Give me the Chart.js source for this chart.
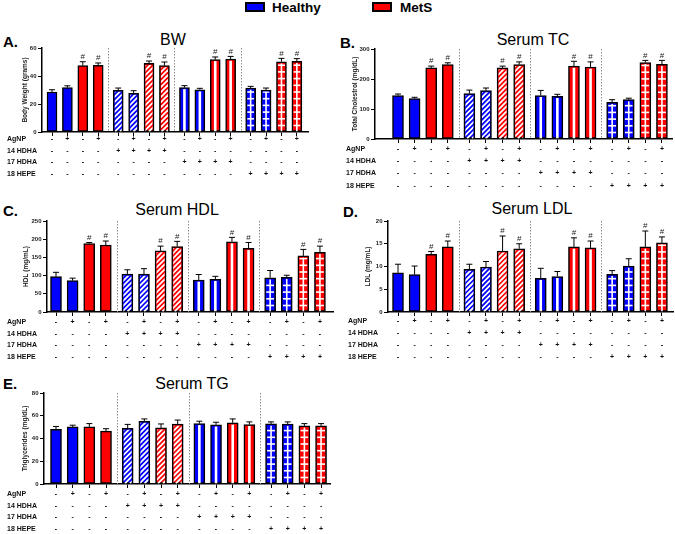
<!DOCTYPE html>
<html>
<head>
<meta charset="utf-8">
<script src="https://cdn.jsdelivr.net/npm/chart.js@4.4.1/dist/chart.umd.min.js"></script>
<style>
  body { margin: 0; background: #fff; font-family: 'Liberation Sans', Arial, sans-serif; }
  #fig { position: relative; width: 675px; height: 534px; overflow: hidden; }
  .txt { position: absolute; white-space: nowrap; line-height: 1; transform: translateY(-50%); color: #000; }
  .letter { font-weight: bold; font-size: 15px; }
  .ttl { font-size: 16px; transform: translate(-50%, -50%); }
  .key { position: absolute; width: 20px; height: 10px; border: 2px solid #000; box-sizing: border-box; }
  .keytxt { font-weight: bold; font-size: 13.5px; }
  canvas { position: absolute; }
</style>
</head>
<body>
<div id="fig">
  <div class="key" style="left:245px;top:2px;background:#0000ff"></div>
  <div class="txt keytxt" style="left:272px;top:8px">Healthy</div>
  <div class="key" style="left:372px;top:2px;background:#ff0000"></div>
  <div class="txt keytxt" style="left:400px;top:8px">MetS</div>
</div>
<script>
// --- treatment table (one symbol per bar) ---
const rowNames = ['AgNP', '14 HDHA', '17 HDHA', '18 HEPE'];
const agnp   = ['-','+','-','+', '-','+','-','+', '-','+','-','+', '-','+','-','+'];
const hdha14 = ['-','-','-','-', '+','+','+','+', '-','-','-','-', '-','-','-','-'];
const hdha17 = ['-','-','-','-', '-','-','-','-', '+','+','+','+', '-','-','-','-'];
const hepe18 = ['-','-','-','-', '-','-','-','-', '-','-','-','-', '+','+','+','+'];
const condition = ['Healthy','Healthy','MetS','MetS', 'Healthy','Healthy','MetS','MetS',
                   'Healthy','Healthy','MetS','MetS', 'Healthy','Healthy','MetS','MetS'];
const groupFill = ['solid', 'diagonal', 'vstripe', 'grid'];

// --- values (mean, SEM) ---
const bwMean = [28.6, 31.7, 47.4, 47.6, 29.8, 27.6, 49, 47.4, 31.7, 30.2, 51.7, 52.1, 31.4, 30, 50.2, 50.5];
const bwSem  = [1.6, 1.3, 2.8, 1.7, 1.6, 1.9, 1.7, 2.6, 1.4, 1, 1.9, 1.9, 1.2, 1.4, 2.4, 1.9];
const tcMean = [145, 135, 237, 248, 151, 161, 237, 248, 145, 142, 243, 240, 122, 131, 255, 249];
const tcSem  = [5, 4, 6, 6, 12, 9, 6, 9, 17, 7, 16, 17, 9, 5, 7, 13];
const hdlMean = [97, 86, 188, 184, 104, 104, 168, 180, 88, 90, 193, 175, 94, 95, 154, 164];
const hdlSem  = [12, 7, 3, 11, 12, 15, 13, 14, 15, 8, 12, 16, 20, 6, 18, 17];
const ldlMean = [8.6, 8.2, 12.7, 14.3, 9.4, 9.9, 13.4, 13.9, 7.4, 7.8, 14.3, 14.1, 8.3, 10.1, 14.3, 15.2];
const ldlSem  = [1.9, 1.9, 0.6, 1.3, 1.1, 1.2, 3.3, 1.1, 2.2, 1.1, 2, 1.5, 0.8, 1.6, 3.5, 1.3];
const tgMean = [48, 50.2, 50.2, 46.5, 49, 55.2, 49.3, 52.6, 53.1, 52, 53.7, 52.3, 52.8, 52.6, 51.1, 51.1];
const tgSem  = [2.6, 1.5, 2.9, 2.1, 3.4, 2, 3.5, 3.6, 2.1, 2.3, 3.5, 2.3, 1.8, 2, 2, 2];
const sigMetS = [0,0,1,1, 0,0,1,1, 0,0,1,1, 0,0,1,1];
const sigNone = [0,0,0,0, 0,0,0,0, 0,0,0,0, 0,0,0,0];

const BLUE = '#0000ff', RED = '#ff0000';
const FONT = "'Liberation Sans', Arial, sans-serif";
Chart.defaults.font.family = FONT;

// bar slot on the x scale: four bars per group plus a small gap between groups
const xpos = i => i + 0.3 * Math.floor(i / 4);

const panels = [
  { letter: 'A.', title: 'BW', yTitle: 'Body Weight (grams)', mean: bwMean, sem: bwSem, sig: sigMetS,
    yMax: 60, step: 20, left: 0, plotTop: 48, baseline: 132, axisLeft: 42, axisRight: 308,
    firstBar: 52, unit: 15.4, yTitleX: 25, labelX: 7, rowStart: 7.5, rowGap: 11.5, barW: 10,
    titleX: 173, titleY: 40, letterX: 3, letterY: 41 },
  { letter: 'B.', title: 'Serum TC', yTitle: 'Total Cholestrol (mg/dL)', mean: tcMean, sem: tcSem, sig: sigMetS,
    yMax: 300, step: 100, left: 335, plotTop: 49, baseline: 139, axisLeft: 375, axisRight: 672,
    firstBar: 398, unit: 16.6, yTitleX: 355, labelX: 346, rowStart: 10, rowGap: 12.2, barW: 11,
    titleX: 533, titleY: 40, letterX: 340, letterY: 42 },
  { letter: 'C.', title: 'Serum HDL', yTitle: 'HDL (mg/mL)', mean: hdlMean, sem: hdlSem, sig: sigMetS,
    yMax: 250, step: 50, left: 0, plotTop: 221, baseline: 312, axisLeft: 47, axisRight: 333,
    firstBar: 56, unit: 16.6, yTitleX: 26, labelX: 7, rowStart: 10, rowGap: 11.7, barW: 11,
    titleX: 177, titleY: 210, letterX: 3, letterY: 210 },
  { letter: 'D.', title: 'Serum LDL', yTitle: 'LDL (mg/mL)', mean: ldlMean, sem: ldlSem, sig: sigMetS,
    yMax: 20, step: 5, left: 335, plotTop: 221, baseline: 312, axisLeft: 388, axisRight: 673,
    firstBar: 398, unit: 16.6, yTitleX: 368, labelX: 348, rowStart: 9.5, rowGap: 11.9, barW: 11,
    titleX: 532, titleY: 209, letterX: 343, letterY: 211 },
  { letter: 'E.', title: 'Serum TG', yTitle: 'Triglycerides (mg/dL)', mean: tgMean, sem: tgSem, sig: sigNone,
    yMax: 80, step: 20, left: 0, plotTop: 393, baseline: 484, axisLeft: 44, axisRight: 330,
    firstBar: 56, unit: 16.67, yTitleX: 25, labelX: 7, rowStart: 10, rowGap: 11.7, barW: 11,
    titleX: 192, titleY: 384, letterX: 3, letterY: 383 }
];

// patterns, error bars, '#' marks, dotted group separators, treatment table
const decor = {
  id: 'decor',
  afterDatasetsDraw(chart) {
    const p = chart.options.plugins.decor;
    const { ctx, chartArea: ca, scales: { x, y } } = chart;
    ctx.save();
    ctx.strokeStyle = '#8c8c8c';
    ctx.lineWidth = 1;
    ctx.setLineDash([1.5, 1.5]);
    for (let g = 1; g < 4; g++) {
      const xm = Math.round((x.getPixelForValue(xpos(4 * g - 1)) + x.getPixelForValue(xpos(4 * g))) / 2) + 0.5;
      ctx.beginPath();
      ctx.moveTo(xm, ca.top);
      ctx.lineTo(xm, ca.bottom);
      ctx.stroke();
    }
    ctx.restore();

    chart.getDatasetMeta(0).data.forEach((bar, i) => {
      const { x: bx, y: by, base, width } = bar.getProps(['x', 'y', 'base', 'width'], true);
      const kind = groupFill[Math.floor(i / 4)];
      const l = bx - width / 2 + 1.5, r = bx + width / 2 - 1.5, t = by + 1.5, b = base;
      ctx.save();
      ctx.beginPath();
      ctx.rect(l, t, r - l, b - t);
      ctx.clip();
      ctx.strokeStyle = '#fff';
      ctx.fillStyle = '#fff';
      if (kind === 'diagonal') {
        ctx.lineWidth = 1.8;
        const h = b - t;
        for (let k = -h - 10; k < width + 10; k += 5) {
          ctx.beginPath();
          ctx.moveTo(l + k, b);
          ctx.lineTo(l + k + h + 10, b - h - 10);
          ctx.stroke();
        }
      } else if (kind === 'vstripe') {
        ctx.fillRect(bx - 1.3, t, 2.6, b - t);
      } else if (kind === 'grid') {
        ctx.fillRect(bx - 0.8, t, 1.6, b - t);
        for (let yy = b - 6; yy > t; yy -= 6.7) ctx.fillRect(l, yy - 0.8, r - l, 1.6);
      }
      ctx.restore();

      const top = y.getPixelForValue(p.mean[i] + p.sem[i]);
      ctx.save();
      ctx.strokeStyle = '#000';
      ctx.lineWidth = 1;
      ctx.beginPath();
      ctx.moveTo(bx, by);
      ctx.lineTo(bx, top);
      ctx.moveTo(bx - 3, top);
      ctx.lineTo(bx + 3, top);
      ctx.stroke();
      if (p.sig[i]) {
        ctx.fillStyle = '#222';
        ctx.font = '8px ' + FONT;
        ctx.textAlign = 'center';
        ctx.textBaseline = 'bottom';
        ctx.fillText('#', bx, top - 1);
      }
      ctx.restore();
    });
  },
  afterDraw(chart) {
    const p = chart.options.plugins.decor;
    const { ctx, scales: { x, y } } = chart;
    const rows = [agnp, hdha14, hdha17, hepe18];
    const y0 = y.getPixelForValue(0);
    ctx.save();
    ctx.fillStyle = '#111';
    ctx.font = 'bold 7px ' + FONT;
    ctx.textBaseline = 'middle';
    rows.forEach((row, r) => {
      const yy = y0 + p.rowStart + r * p.rowGap;
      ctx.textAlign = 'left';
      ctx.fillText(rowNames[r], p.labelX, yy);
      ctx.textAlign = 'center';
      row.forEach((s, i) => ctx.fillText(s, x.getPixelForValue(xpos(i)), yy));
    });
    ctx.restore();
  }
};

const fig = document.getElementById('fig');

panels.forEach(p => {
  const letter = document.createElement('div');
  letter.className = 'txt letter';
  letter.style.left = p.letterX + 'px';
  letter.style.top = p.letterY + 'px';
  letter.textContent = p.letter;
  fig.appendChild(letter);

  const ttl = document.createElement('div');
  ttl.className = 'txt ttl';
  ttl.style.left = p.titleX + 'px';
  ttl.style.top = p.titleY + 'px';
  ttl.textContent = p.title;
  fig.appendChild(ttl);

  const top = p.plotTop - 10;
  const w = p.axisRight + 3 - p.left;
  const h = p.baseline - top + 52;
  const padLeft = p.yTitleX - 4 - p.left;
  const yW = p.axisLeft - p.left - padLeft;
  const padBottom = h - 10 - (p.baseline - p.plotTop) - 5;

  const cv = document.createElement('canvas');
  cv.width = w;
  cv.height = h;
  cv.style.left = p.left + 'px';
  cv.style.top = top + 'px';
  fig.appendChild(cv);

  new Chart(cv, {
    type: 'bar',
    data: {
      datasets: [{
        data: p.mean.map((v, i) => ({ x: xpos(i), y: v })),
        backgroundColor: condition.map(c => c === 'Healthy' ? BLUE : RED),
        borderColor: '#000',
        borderWidth: 1.5,
        borderSkipped: false,
        barThickness: p.barW
      }]
    },
    options: {
      responsive: false,
      animation: false,
      devicePixelRatio: 1,
      layout: { padding: { left: padLeft, top: 10, right: w - (p.axisRight - p.left), bottom: padBottom } },
      plugins: {
        legend: { display: false },
        tooltip: { enabled: false },
        decor: { mean: p.mean, sem: p.sem, sig: p.sig, labelX: p.labelX - p.left,
                 rowStart: p.rowStart, rowGap: p.rowGap }
      },
      scales: {
        x: {
          type: 'linear',
          min: (p.axisLeft - p.firstBar) / p.unit,
          max: (p.axisRight - p.firstBar) / p.unit,
          offset: false,
          afterBuildTicks: s => { s.ticks = p.mean.map((v, i) => ({ value: xpos(i) })); },
          afterFit: s => { s.height = 5; },
          ticks: { callback: () => '', autoSkip: false, padding: 0 },
          grid: { drawOnChartArea: false, drawTicks: true, tickLength: 4, color: '#000', lineWidth: 1, offset: false },
          border: { display: true, color: '#000', width: 1.5 }
        },
        y: {
          min: 0,
          max: p.yMax,
          afterFit: s => { s.width = yW; },
          ticks: { stepSize: p.step, font: { size: 6, weight: 'bold' }, color: '#222', padding: 1.5 },
          grid: { drawOnChartArea: false, tickLength: 4, color: '#000', lineWidth: 1 },
          border: { color: '#000', width: 1.5 },
          title: { display: true, text: p.yTitle, font: { size: 6.5, weight: 'bold' }, color: '#222', padding: 0 }
        }
      }
    },
    plugins: [decor]
  });
});
</script>
</body>
</html>
